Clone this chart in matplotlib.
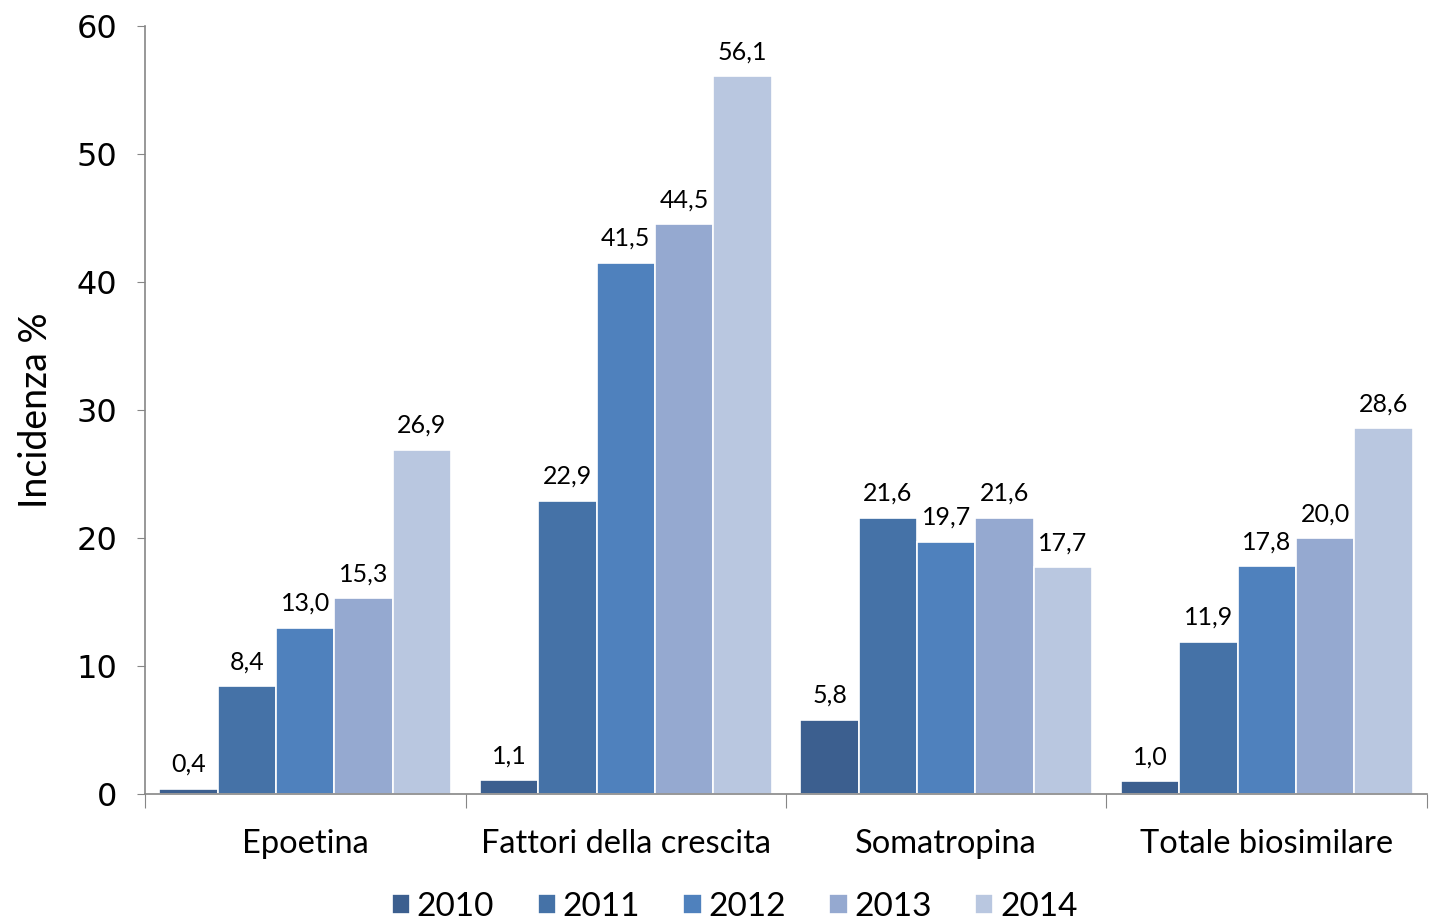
import numpy as np
import matplotlib.pyplot as plt

# Data
categories = ["Epoetina", "Fattori della crescita", "Somatropina", "Totale biosimilare"]
years = ["2010", "2011", "2012", "2013", "2014"]
values_2010 = [0.4, 1.1, 5.8, 1.0]
values_2011 = [8.4, 22.9, 21.6, 11.9]
values_2012 = [13.0, 41.5, 19.7, 17.8]
values_2013 = [15.3, 44.5, 21.6, 20.0]
values_2014 = [26.9, 56.1, 17.7, 28.6]
series = [values_2010, values_2011, values_2012, values_2013, values_2014]
colors = ["#3C5F8F", "#4572A7", "#4F81BD", "#95A9D0", "#B9C7E0"]

plt.rcParams['font.family'] = ['Lato', 'DejaVu Sans']

fig = plt.figure(figsize=(14.33, 9.23), dpi=100)
ax = fig.add_axes([0.1012, 0.1398, 0.8946, 0.832])

x = np.arange(len(categories))
bar_w = 0.182
offsets = (np.arange(len(years)) - 2) * bar_w

for i, (vals, col, yr) in enumerate(zip(series, colors, years)):
    bars = ax.bar(x + offsets[i], vals, width=bar_w, color=col,
                  edgecolor='white', linewidth=1.2, label=yr)
    for b, v in zip(bars, vals):
        ax.text(b.get_x() + b.get_width() / 2, v + 1.0,
                f"{v:.1f}".replace('.', ','), ha='center', va='bottom',
                fontsize=18, color='black')

ax.set_xlim(-0.5, len(categories) - 0.5)
ax.set_ylim(0, 60)
ax.set_yticks(range(0, 61, 10))
for lbl in ax.get_yticklabels():
    lbl.set_fontfamily('DejaVu Sans')
ax.tick_params(axis='y', labelsize=23, length=6, color='#868686', pad=14)

# category separators as major ticks, labels on minor ticks
ax.set_xticks(np.arange(-0.5, len(categories), 1.0))
ax.set_xticklabels([])
ax.set_xticks(x, minor=True)
ax.set_xticklabels(categories, minor=True, fontsize=23.5)
ax.tick_params(axis='x', which='major', length=10, color='#868686')
ax.tick_params(axis='x', which='minor', length=0, pad=25)

for side in ['top', 'right']:
    ax.spines[side].set_visible(False)
for side in ['left', 'bottom']:
    ax.spines[side].set_color('#868686')
    ax.spines[side].set_linewidth(1.2)

ax.set_ylabel("Incidenza %", fontsize=27, labelpad=16)

ax.legend(loc='center', bbox_to_anchor=(0.46, -0.147), ncol=5,
          frameon=False, fontsize=24, handlelength=0.55, handleheight=0.55,
          handletextpad=0.2, columnspacing=1.3, borderpad=0)

plt.savefig("out.png", dpi=100, facecolor='white')
